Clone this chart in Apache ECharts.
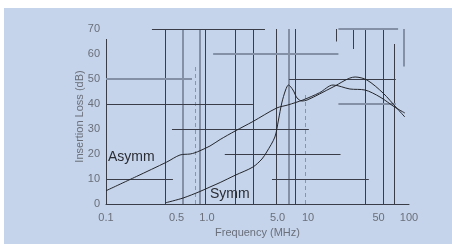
<!DOCTYPE html>
<html>
<head>
    <meta charset="utf-8">
    <title>Insertion Loss</title>
    <script src="https://cdn.jsdelivr.net/npm/echarts@6/dist/echarts.min.js"></script>
    <style>
        body { margin: 0; background: #fff; }
    </style>
</head>
<body>
    <div id="chart" style="width: 452px;height:244px;"></div>
    <script type="text/javascript">
        // values (frequency in MHz, loss in dB)
        var asymmFreq = [0.1, 0.2, 0.4, 0.54, 0.68, 0.76, 0.85, 1.07, 1.35, 1.9, 2.85, 4.9, 6.3, 8.9, 13, 17.7, 26, 36.6, 51.6, 72, 91];
        var asymmLoss = [5.3, 11, 16.8, 19.6, 20, 20.5, 21.3, 23.2, 25.8, 29.2, 33, 38.4, 39.6, 41.6, 44.5, 47.6, 46, 45.6, 42.8, 38.8, 36.4];

        var symmFreq = [0.39, 0.58, 0.85, 1.07, 1.35, 1.9, 2.85, 3.5, 3.9, 4.7, 5.1, 5.5, 6.0, 6.4, 7.1, 7.8, 8.7, 9.8, 13, 17.7, 29.3, 38.3, 55.3, 75.5, 91];
        var symmLoss = [0.5, 2.4, 5, 6.8, 8.6, 11.5, 14.8, 18, 20.8, 26.8, 33.6, 40.4, 45.6, 47.6, 45.6, 42.4, 41.2, 41.6, 44, 46.8, 50.8, 49.6, 44.4, 38.4, 34.8];

        var xTickValues = [0.1, 0.5, 1, 5, 10, 50, 100];
        var xTickLabels = ['0.1', '0.5', '1.0', '5.0', '10', '50', '100'];

        // broken grid of the original scan: [freq, from dB, to dB, tone]
        var vGrid = [
            [0.1, 0, 66, 'd'], [0.39, 0, 70, 'd'], [0.58, 0, 70, 'g'], [0.76, 0, 55, 'dash'],
            [0.85, 0, 70, 'g'], [0.95, 0, 70, 'd'], [1.9, 0, 70, 'd'], [2.85, 0, 70, 'd'],
            [4.8, 0, 70, 'd'], [6.4, 0, 70, 'g'], [7.4, 0, 70, 'd'], [9.3, 0, 44, 'dash'],
            [19, 65, 70, 'd'], [28, 62, 70, 'd'], [36.6, 0, 70, 'd'], [55, 0, 70, 'd'],
            [72, 0, 64, 'd'], [88, 55, 70, 'g']
        ];
        // [dB, from freq, to freq, tone]
        var hGrid = [
            [70, 0.285, 3.75, 'd'], [70, 20, 78, 'g'], [60, 1.15, 20, 'g'],
            [50, 0.1, 0.71, 'g'], [50, 6.5, 74, 'd'], [40, 0.1, 2.85, 'd'], [40, 20, 74, 'g'],
            [30, 0.45, 10.2, 'd'], [20, 1.5, 21, 'd'], [10, 0.1, 0.46, 'd'], [10, 4.4, 40, 'd']
        ];

        var tones = {
            d: { color: '#3a3d48', width: 1, type: 'solid' },
            g: { color: '#8490a6', width: 2, type: 'solid' },
            dash: { color: '#8a93a8', width: 1, type: [4, 3] }
        };

        var gridLines = [];
        vGrid.forEach(function (v) {
            gridLines.push([{ coord: [v[0], v[1]], lineStyle: tones[v[3]] }, { coord: [v[0], v[2]] }]);
        });
        hGrid.forEach(function (h) {
            gridLines.push([{ coord: [h[1], h[0]], lineStyle: tones[h[3]] }, { coord: [h[2], h[0]] }]);
        });

        function pairs(xs, ys) {
            return xs.map(function (x, i) { return [x, ys[i]]; });
        }

        var myChart = echarts.init(document.getElementById('chart'));

        var labelFont = 'Liberation Sans';
        var option = {
            backgroundColor: '#ffffff',
            animation: false,
            graphic: [
                { type: 'rect', shape: { x: 4, y: 8, width: 448, height: 236 }, style: { fill: '#c5d4ea' }, z: -10 },
                { type: 'text', left: 108, top: 150, style: { text: 'Asymm', fontSize: 14, fill: '#2a2c33', fontFamily: labelFont }, z: 10 },
                { type: 'text', left: 210, top: 187, style: { text: 'Symm', fontSize: 14, fill: '#2a2c33', fontFamily: labelFont }, z: 10 }
            ],
            grid: { left: 106, right: 43, top: 29, bottom: 40 },
            xAxis: {
                type: 'log',
                min: 0.1,
                max: 100,
                logBase: 10,
                name: 'Frequency (MHz)',
                nameLocation: 'middle',
                nameGap: 23,
                nameTextStyle: { color: '#6a6f7a', fontSize: 11, fontFamily: labelFont },
                axisLine: { lineStyle: { color: '#3a3d48', width: 1 } },
                axisTick: { show: false },
                splitLine: { show: false },
                axisLabel: {
                    customValues: xTickValues,
                    color: '#6a6f7a',
                    fontSize: 11,
                    fontFamily: labelFont,
                    margin: 8,
                    formatter: function (val) {
                        var i = xTickValues.indexOf(val);
                        return i >= 0 ? xTickLabels[i] : '';
                    }
                }
            },
            yAxis: {
                type: 'value',
                min: 0,
                max: 70,
                interval: 10,
                name: 'Insertion Loss (dB)',
                nameLocation: 'middle',
                nameGap: 21,
                nameMoveOverlap: false,
                nameTextStyle: { color: '#6a6f7a', fontSize: 11, fontFamily: labelFont },
                axisLine: { show: false },
                axisTick: { show: false },
                splitLine: { show: false },
                axisLabel: { color: '#6a6f7a', fontSize: 11, fontFamily: labelFont, margin: 6 }
            },
            series: [
                {
                    name: 'Asymm',
                    type: 'line',
                    smooth: 0.3,
                    symbol: 'none',
                    data: pairs(asymmFreq, asymmLoss),
                    lineStyle: { color: '#24262c', width: 1 },
                    z: 5,
                    markLine: {
                        silent: true,
                        symbol: ['none', 'none'],
                        label: { show: false },
                        animation: false,
                        data: gridLines
                    }
                },
                {
                    name: 'Symm',
                    type: 'line',
                    smooth: 0.3,
                    symbol: 'none',
                    data: pairs(symmFreq, symmLoss),
                    lineStyle: { color: '#24262c', width: 1 },
                    z: 5
                }
            ]
        };

        myChart.setOption(option);
    </script>
</body>
</html>
